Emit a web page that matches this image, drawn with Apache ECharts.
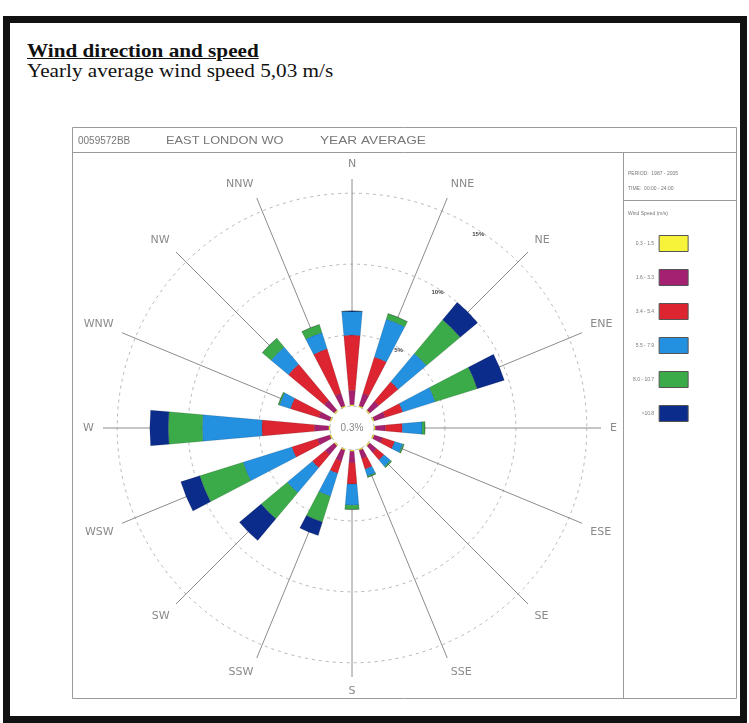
<!DOCTYPE html>
<html>
<head>
<meta charset="utf-8">
<script src="https://cdn.jsdelivr.net/npm/echarts@6/dist/echarts.min.js"></script>
<style>
html, body { margin: 0; padding: 0; background: #fff; }
#page { position: absolute; left: 3px; top: 16px; width: 730px; height: 693px; border: 7px solid #111; }
#head { position: absolute; left: 27px; top: 41px; font-family: "Liberation Serif", serif; font-size: 19px; color: #111; line-height: 20px; transform: scaleX(1.115); transform-origin: left top; white-space: nowrap; }
#head b { text-decoration: underline; }
#chart { position: absolute; left: 0; top: 0; width: 749px; height: 723px; }
</style>
</head>
<body>
<div id="page"></div>
<div id="head"><b>Wind direction and speed</b><br>Yearly average wind speed 5,03 m/s</div>
<div id="chart"></div>
<script>
var directions = ['N', 'NNE', 'NE', 'ENE', 'E', 'ESE', 'SE', 'SSE', 'S', 'SSW', 'SW', 'WSW', 'W', 'WNW', 'NW', 'NNW'];
var speedClasses = ['0.3 - 1.5', '1.6 - 3.3', '3.4 - 5.4', '5.5 - 7.9', '8.0 - 10.7', '>10.8'];
var classColors = ['#f7f23a', '#a42070', '#dc2530', '#2390e0', '#3aab48', '#0c2c8c'];
var ringTicks = [5, 10, 15];
var calm = '0.3%';

// frequency (%) per direction, one array per speed class
var class1 = [0.1, 0.1, 0.1, 0.1, 0.1, 0.1, 0.1, 0.1, 0.1, 0.1, 0.1, 0.1, 0.1, 0.1, 0.1, 0.1];
var class2 = [1.0, 0.9, 0.8, 0.8, 0.7, 0.6, 0.6, 0.6, 0.8, 0.8, 0.8, 0.9, 1.0, 0.8, 0.9, 0.9];
var class3 = [3.9, 2.7, 1.8, 1.3, 1.2, 0.9, 0.7, 0.8, 1.5, 0.9, 1.2, 1.9, 3.7, 2.1, 3.3, 3.3];
var class4 = [1.7, 2.8, 2.6, 2.4, 1.4, 0.6, 0.6, 0.5, 1.5, 1.7, 2.3, 3.6, 4.2, 0.8, 1.6, 1.2];
var class5 = [0.0, 0.4, 3.1, 3.1, 0.2, 0.1, 0.1, 0.1, 0.3, 1.9, 2.4, 3.2, 2.4, 0.1, 0.8, 0.6];
var class6 = [0.0, 0.0, 1.6, 2.0, 0.0, 0.0, 0.0, 0.0, 0.0, 1.0, 2.0, 1.4, 1.3, 0.0, 0.0, 0.0];

var chart = echarts.init(document.getElementById('chart'));
var classData = [class1, class2, class3, class4, class5, class6];

var series = [];
for (var i = 0; i < speedClasses.length; i++) {
    series.push({
        name: speedClasses[i],
        type: 'bar',
        coordinateSystem: 'polar',
        polarIndex: 0,
        stack: 'rose',
        barCategoryGap: '55%',
        itemStyle: { color: classColors[i], borderColor: 'rgba(0,0,0,0.25)', borderWidth: 0.5 },
        data: classData[i]
    });
}

var grey = '#9a9a9a';
var option = {
    animation: false,
    polar: [
        // rose: 0..16 %
        { center: [352, 428], radius: [22, 249] },
        // rings + ring labels: 0..15 %, same scale
        { center: [352, 428], radius: [22, 234.8] }
    ],
    angleAxis: [
        {
            polarIndex: 0,
            type: 'category',
            data: directions,
            boundaryGap: false,
            startAngle: 90,
            clockwise: true,
            axisLine: { show: false },
            axisTick: { show: false },
            axisLabel: { color: '#8a8a8a', fontSize: 11, margin: 9, fontFamily: 'DejaVu Sans' },
            splitLine: { show: true, lineStyle: { color: '#8c8c8c', width: 1 } }
        },
        {
            polarIndex: 1,
            type: 'value',
            min: 0,
            max: 360,
            startAngle: 55,
            axisLine: { show: false },
            axisTick: { show: false },
            axisLabel: { show: false },
            splitLine: { show: false }
        }
    ],
    radiusAxis: [
        {
            polarIndex: 0,
            min: 0,
            max: 16,
            axisLine: { show: false },
            axisTick: { show: false },
            axisLabel: { show: false },
            splitLine: { show: false }
        },
        {
            polarIndex: 1,
            min: 0,
            max: 15,
            interval: 5,
            axisLine: { show: false },
            axisTick: { show: false },
            axisLabel: {
                show: true,
                fontSize: 6,
                fontWeight: 'bold',
                color: '#444',
                margin: 3,
                formatter: function (v) { return ringTicks.indexOf(v) >= 0 ? v + '%' : ''; }
            },
            splitLine: {
                show: true,
                lineStyle: { color: '#b5b5b5', type: [3, 4], width: 1 }
            }
        }
    ],
    legend: {
        data: speedClasses,
        orient: 'vertical',
        left: 628,
        top: 230,
        align: 'right',
        itemWidth: 29,
        itemHeight: 16,
        itemGap: 17,
        selectedMode: false,
        icon: 'rect',
        itemStyle: { borderColor: '#555', borderWidth: 1 },
        textStyle: { fontSize: 5, color: '#777', width: 33 }
    },
    graphic: [
        { type: 'rect', shape: { x: 72.5, y: 127.5, width: 664, height: 571 }, style: { fill: null, stroke: grey, lineWidth: 1 } },
        { type: 'line', shape: { x1: 72, y1: 152.5, x2: 737, y2: 152.5 }, style: { stroke: grey, lineWidth: 1 } },
        { type: 'line', shape: { x1: 623.5, y1: 152, x2: 623.5, y2: 698 }, style: { stroke: grey, lineWidth: 1 } },
        { type: 'line', shape: { x1: 623, y1: 200.5, x2: 737, y2: 200.5 }, style: { stroke: grey, lineWidth: 1 } },
        { type: 'text', x: 78, y: 136, style: { text: '0059572BB', fontSize: 10, fill: '#777', fontFamily: 'Arial' } },
        { type: 'text', x: 166, y: 136, scaleX: 1.22, style: { text: 'EAST LONDON WO', fontSize: 10.5, fill: '#777', fontFamily: 'Arial' } },
        { type: 'text', x: 320, y: 136, scaleX: 1.3, style: { text: 'YEAR AVERAGE', fontSize: 10.5, fill: '#777', fontFamily: 'Arial' } },
        { type: 'text', left: 628, top: 171, style: { text: 'PERIOD:  1987 - 2005', fontSize: 5, fill: '#777' } },
        { type: 'text', left: 628, top: 186, style: { text: 'TIME:  00:00 - 24:00', fontSize: 5, fill: '#777' } },
        { type: 'text', left: 628, top: 211, style: { text: 'Wind Speed (m/s)', fontSize: 5, fill: '#777' } },
        { type: 'text', x: 352, y: 428, style: { text: calm, fontSize: 10, fill: '#888', align: 'center', verticalAlign: 'middle', fontFamily: 'Arial' } }
    ],
    series: series
};
chart.setOption(option);
</script>
</body>
</html>
